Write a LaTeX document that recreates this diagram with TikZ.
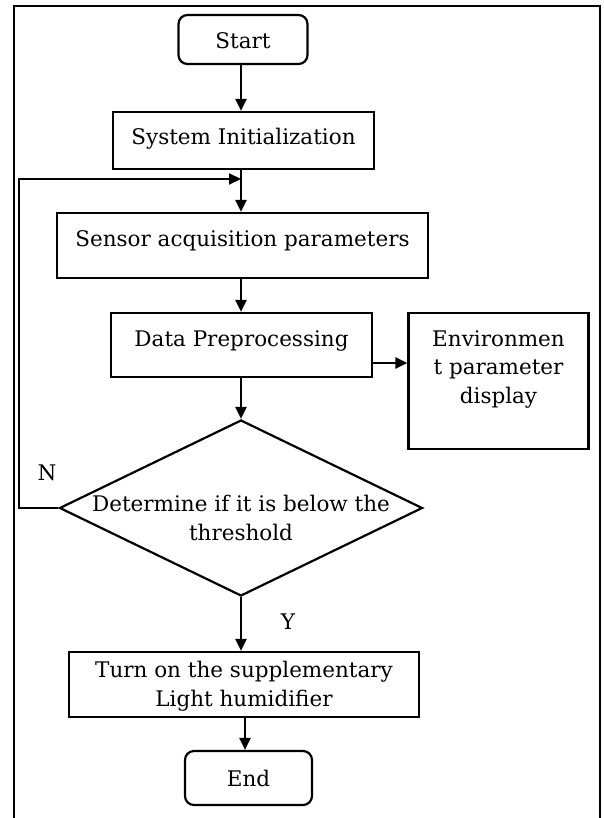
\documentclass[tikz,border=0pt]{standalone}
\usepackage{fontspec}
\setmainfont{DejaVu Serif}
\usetikzlibrary{arrows.meta,shapes.geometric}
\begin{document}
\begin{tikzpicture}[x=1pt,y=-1pt,
  lw/.style={line width=2.2pt},
  box/.style={draw,lw,rectangle,inner sep=0pt},
  term/.style={draw,lw,rectangle,rounded corners=9pt,inner sep=0pt},
  txt/.style={inner sep=0pt,align=center,font=\fontsize{21.5}{28.5}\selectfont},
  arr/.style={lw,-{Triangle[length=12pt,width=11pt]}},
  conn/.style={lw}]
\useasboundingbox (0,0) rectangle (603,818);
% frame
\draw[lw] (14,818) -- (14,6) -- (600,6) -- (600,818);
% boxes
\node[term,minimum width=129pt,minimum height=49pt] (st) at (243,39.5) {};
\node[txt] (stt) at (243,41) {Start};
\node[box,minimum width=261pt,minimum height=57pt] (si) at (243.5,140.5) {};
\node[txt] (sit) at (243.5,139) {System Initialization};
\node[box,minimum width=371pt,minimum height=65pt] (se) at (242.5,245.5) {};
\node[txt] (set) at (242.5,241) {Sensor acquisition parameters};
\node[box,minimum width=261pt,minimum height=64pt] (dp) at (241.5,345) {};
\node[txt] (dpt) at (241.5,341) {Data Preprocessing};
\node[box,minimum width=180pt,minimum height=136pt] (en) at (498.5,381) {};
\node[txt] (ent) at (498.5,369) {Environmen\\t parameter\\display};
\node[draw,lw,diamond,minimum width=363pt,minimum height=176pt,inner sep=0pt] (di) at (241,508) {};
\node[txt] (dit) at (241,518) {Determine if it is below the\\threshold};
\node[box,minimum width=350pt,minimum height=65pt] (to) at (244,684.5) {};
\node[txt] (tot) at (244,686) {Turn on the supplementary\\Light humidifier};
\node[term,minimum width=127pt,minimum height=54pt] (ed) at (248.5,778) {};
\node[txt] (edt) at (248.5,778) {End};
% labels
\node[txt] (nl) at (47,473) {N};
\node[txt] (yl) at (288,622) {Y};
% connectors
\coordinate (jn) at (241,179);
\coordinate (lc) at (19,179);
\draw[arr] (st.south -| 241,0) -- (si.north -| 241,0);
\draw[arr] (si.south -| 241,0) -- (se.north -| 241,0);
\draw[arr] (se.south -| 241,0) -- (dp.north -| 241,0);
\draw[arr] (dp.south -| 241,0) -- (di.north);
\draw[arr] ([yshift=-18pt]dp.east) -- ([yshift=-18pt]dp.east -| en.west);
\draw[arr] (di.south) -- (to.north -| di.south);
\draw[arr] (to.south -| 245,0) -- (ed.north -| 245,0);
\draw[arr] (di.west) -- (di.west -| lc) -- (lc) -- (jn);
\end{tikzpicture}
\end{document}
